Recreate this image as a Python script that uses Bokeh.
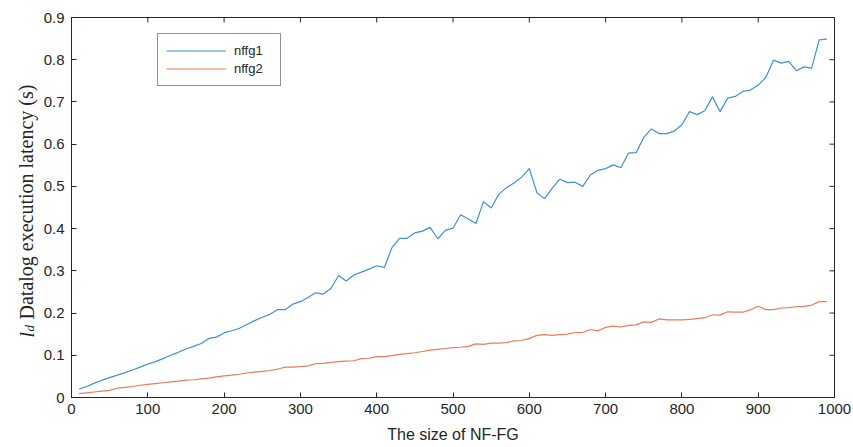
from bokeh.plotting import figure
from bokeh.models import Range1d, Legend, LegendItem, Label, FixedTicker
from bokeh.layouts import row
from bokeh.embed import file_html
from bokeh.resources import INLINE

# ---- data ----
sizes = [10, 20, 30, 40, 50, 60, 70, 80, 90, 100,
         110, 120, 130, 140, 150, 160, 170, 180, 190, 200,
         210, 220, 230, 240, 250, 260, 270, 280, 290, 300,
         310, 320, 330, 340, 350, 360, 370, 380, 390, 400,
         410, 420, 430, 440, 450, 460, 470, 480, 490, 500,
         510, 520, 530, 540, 550, 560, 570, 580, 590, 600,
         610, 620, 630, 640, 650, 660, 670, 680, 690, 700,
         710, 720, 730, 740, 750, 760, 770, 780, 790, 800,
         810, 820, 830, 840, 850, 860, 870, 880, 890, 900,
         910, 920, 930, 940, 950, 960, 970, 980, 990]

nffg1 = [0.020, 0.026, 0.034, 0.041, 0.047, 0.053, 0.059, 0.065, 0.072, 0.079,
         0.085, 0.092, 0.100, 0.107, 0.115, 0.121, 0.128, 0.140, 0.143, 0.153,
         0.158, 0.164, 0.173, 0.182, 0.190, 0.197, 0.208, 0.208, 0.221, 0.227,
         0.237, 0.248, 0.245, 0.258, 0.289, 0.276, 0.290, 0.297, 0.304, 0.312,
         0.308, 0.355, 0.377, 0.377, 0.390, 0.394, 0.403, 0.376, 0.396, 0.401,
         0.433, 0.423, 0.412, 0.464, 0.449, 0.481, 0.497, 0.508, 0.522, 0.542,
         0.485, 0.471, 0.496, 0.517, 0.509, 0.510, 0.500, 0.527, 0.538, 0.542,
         0.551, 0.544, 0.579, 0.580, 0.616, 0.636, 0.625, 0.625, 0.631, 0.646,
         0.677, 0.670, 0.679, 0.712, 0.677, 0.709, 0.713, 0.725, 0.728, 0.740,
         0.758, 0.799, 0.792, 0.796, 0.774, 0.783, 0.780, 0.847, 0.849]

nffg2 = [0.009, 0.011, 0.013, 0.015, 0.017, 0.022, 0.024, 0.026, 0.029, 0.031,
         0.033, 0.035, 0.037, 0.039, 0.041, 0.042, 0.044, 0.046, 0.049, 0.051,
         0.053, 0.055, 0.058, 0.060, 0.062, 0.064, 0.067, 0.072, 0.072, 0.073,
         0.075, 0.080, 0.081, 0.083, 0.085, 0.086, 0.087, 0.092, 0.093, 0.097,
         0.097, 0.099, 0.102, 0.104, 0.106, 0.109, 0.112, 0.114, 0.116, 0.118,
         0.119, 0.121, 0.127, 0.126, 0.129, 0.129, 0.130, 0.134, 0.135, 0.140,
         0.147, 0.149, 0.147, 0.149, 0.150, 0.154, 0.154, 0.161, 0.158, 0.166,
         0.169, 0.167, 0.171, 0.172, 0.179, 0.178, 0.186, 0.184, 0.184, 0.184,
         0.185, 0.187, 0.189, 0.196, 0.195, 0.203, 0.202, 0.202, 0.208, 0.216,
         0.208, 0.208, 0.212, 0.213, 0.215, 0.216, 0.219, 0.227, 0.227]

series_names = ["nffg1", "nffg2"]
x_ticks = [0, 100, 200, 300, 400, 500, 600, 700, 800, 900, 1000]
y_ticks = [0, 0.1, 0.2, 0.3, 0.4, 0.5, 0.6, 0.7, 0.8, 0.9]
y_tick_labels = ["0", "0.1", "0.2", "0.3", "0.4", "0.5", "0.6", "0.7", "0.8", "0.9"]
x_title = "The size of NF-FG"
y_title_main = "l"
y_title_sub = "d"
y_title_rest = "Datalog execution latency (s)"

# ---- style ----
AX = "#262626"
BLUE = "#3f92d4"
ORANGE = "#ec7c56"
SANS = "Liberation Sans"
SERIF = "Liberation Serif"
H = 447
TITLE_W = 40
MAIN_W = 853 - TITLE_W
FRAME_W, FRAME_H = 763, 380
X0, X1 = 0, 1000
Y0, Y1 = 0, 0.9

# ---- narrow strip that holds the rotated y-axis title ----
pt = figure(width=TITLE_W, height=H, output_backend="svg", toolbar_location=None,
            x_range=Range1d(0, 1), y_range=Range1d(0, 1),
            x_axis_type=None, y_axis_type=None,
            min_border_left=0, min_border_right=0, min_border_top=0,
            min_border_bottom=0)
pt.grid.visible = False
pt.outline_line_color = None
pt.background_fill_color = "white"
pt.border_fill_color = "white"

# the row aligns this strip's frame with the main frame (bottom at 397 px)
bx = 26      # baseline x (px from strip left)
by = 60      # start of title (px above frame bottom)
common = dict(x_units="screen", y_units="screen", angle=1.5708,
              text_font=SERIF, text_color=AX, text_align="left",
              text_baseline="alphabetic")
pt.add_layout(Label(x=bx, y=by, text=y_title_main, text_font_style="italic",
                    text_font_size="20px", **common))
pt.add_layout(Label(x=bx + 3, y=by + 6, text=y_title_sub, text_font_style="italic",
                    text_font_size="13px", **common))
pt.add_layout(Label(x=bx, y=by + 18, text=y_title_rest, text_font_style="normal",
                    text_font_size="20px", **common))

# ---- main chart ----
p = figure(width=MAIN_W, height=H, output_backend="svg", toolbar_location=None,
           x_range=Range1d(X0, X1), y_range=Range1d(Y0, Y1),
           min_border_left=71 - TITLE_W, min_border_right=19, min_border_top=17,
           min_border_bottom=50)
p.grid.visible = False
p.outline_line_color = AX
p.outline_line_width = 1
p.background_fill_color = "white"
p.border_fill_color = "white"

r1 = p.line(sizes, nffg1, line_color=BLUE, line_width=1.2)
r2 = p.line(sizes, nffg2, line_color=ORANGE, line_width=1.2)

xa = p.xaxis[0]
xa.ticker = FixedTicker(ticks=x_ticks)
xa.axis_label = x_title
xa.axis_label_text_font = SANS
xa.axis_label_text_font_style = "normal"
xa.axis_label_text_font_size = "16px"
xa.axis_label_text_color = AX
xa.axis_label_standoff = 9

ya = p.yaxis[0]
ya.ticker = FixedTicker(ticks=y_ticks)
ya.major_label_overrides = {t: s for t, s in zip(y_ticks, y_tick_labels)}

for ax in (xa, ya):
    ax.major_tick_in = 5
    ax.major_tick_out = 0
    ax.minor_tick_line_color = None
    ax.axis_line_color = AX
    ax.major_tick_line_color = AX
    ax.major_label_text_font = SANS
    ax.major_label_text_font_size = "15px"
    ax.major_label_text_color = AX
xa.major_label_standoff = 6
ya.major_label_standoff = 7

# mirrored inward ticks on the top and right edges of the box
tick_dy = 5 * (Y1 - Y0) / FRAME_H
tick_dx = 5 * (X1 - X0) / FRAME_W
p.segment(x0=x_ticks, y0=[Y1] * len(x_ticks), x1=x_ticks, y1=[Y1 - tick_dy] * len(x_ticks),
          line_color=AX, line_width=1)
p.segment(x0=[X1] * len(y_ticks), y0=y_ticks, x1=[X1 - tick_dx] * len(y_ticks), y1=y_ticks,
          line_color=AX, line_width=1)

legend = Legend(items=[LegendItem(label=series_names[0], renderers=[r1]),
                       LegendItem(label=series_names[1], renderers=[r2])],
                location=(86, 311))
legend.border_line_color = AX
legend.border_line_width = 1
legend.background_fill_color = "white"
legend.background_fill_alpha = 1
legend.label_text_font = SANS
legend.label_text_font_size = "13px"
legend.label_text_color = AX
legend.glyph_width = 60
legend.glyph_height = 17
legend.label_height = 17
legend.label_width = 38
legend.spacing = 1
legend.padding = 8
legend.margin = 0
legend.label_standoff = 8
p.add_layout(legend)

layout = row(pt, p)
open("out.html", "w").write(file_html(layout, INLINE))
